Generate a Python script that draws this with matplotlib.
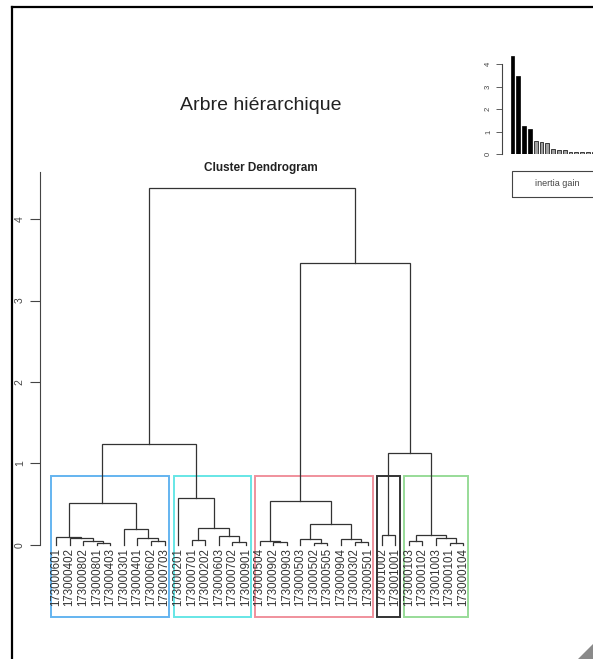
import numpy as np
import matplotlib
matplotlib.use('Agg')
import matplotlib.pyplot as plt
from matplotlib.patches import Rectangle, Polygon

plt.rcParams['font.family'] = ['Liberation Sans', 'DejaVu Sans']

# leaf labels in dendrogram order
labels = ['173000601', '173000402', '173000802', '173000801', '173000403',
          '173000301', '173000401', '173000602', '173000703',
          '173000201', '173000701', '173000202', '173000603', '173000702', '173000901',
          '173000504', '173000902', '173000903', '173000503', '173000502',
          '173000505', '173000904', '173000302', '173000501',
          '173001002', '173001001',
          '173000103', '173000102', '173001003', '173000101', '173000104']

# merges: (child a, child b, height); leaves are 0..30, merge k gets id 31+k
merges = [(3, 4, 0.02), (2, 31, 0.05), (1, 32, 0.08), (0, 33, 0.095),
          (7, 8, 0.04), (6, 35, 0.085), (5, 36, 0.19), (34, 37, 0.51),
          (10, 11, 0.06), (13, 14, 0.03), (12, 40, 0.11), (39, 41, 0.20),
          (9, 42, 0.57), (38, 43, 1.24),
          (16, 17, 0.03), (15, 45, 0.05), (19, 20, 0.02), (18, 47, 0.07),
          (22, 23, 0.03), (21, 49, 0.07), (48, 50, 0.25), (46, 51, 0.54),
          (24, 25, 0.12),
          (26, 27, 0.05), (29, 30, 0.025), (28, 55, 0.08), (54, 56, 0.12),
          (53, 57, 1.13), (52, 58, 3.46), (44, 59, 4.38)]

# clusters cut at k=5: first and last leaf of each box
cluster_bounds = [(0, 8), (9, 14), (15, 23), (24, 25), (26, 30)]
cluster_colors = ['#64b4f0', '#66e6e6', '#f0909c', '#333333', '#98dc98']

n_black = 4
inertia_gain = sorted([m[2] for m in merges], reverse=True)

W, H = 593, 659
fig = plt.figure(figsize=(W / 100, H / 100), dpi=100)

# main dendrogram axes
y0, ppu = 544.7, 81.4
ybot = -0.89
ytop = 4.58
xl, xr = 40, 480
lx0, lsp = 56, 13.57
ax = fig.add_axes([xl / W, 1 - (y0 - ybot * ppu) / H, (xr - xl) / W, (ytop - ybot) * ppu / H])
ax.set_xlim((xl - lx0) / lsp, (xr - lx0) / lsp)
ax.set_ylim(ybot, ytop)

n = len(labels)
pos = {i: float(i) for i in range(n)}
hgt = {i: 0.0 for i in range(n)}
for k, (a, b, h) in enumerate(merges):
    ax.plot([pos[a], pos[a], pos[b], pos[b]], [hgt[a], h, h, hgt[b]],
            color='#333333', lw=0.9, solid_joinstyle='miter')
    pos[n + k] = (pos[a] + pos[b]) / 2
    hgt[n + k] = h

for i, lab in enumerate(labels):
    ax.text(i, -0.04, lab, rotation=90, ha='center', va='top',
            fontsize=8.3, color='#333333')

rect_top = (sorted([m[2] for m in merges], reverse=True)[3] +
            sorted([m[2] for m in merges], reverse=True)[4]) / 2
for (first, last), col in zip(cluster_bounds, cluster_colors):
    ax.add_patch(Rectangle((first - 0.34, ybot), last - first + 0.68, rect_top - ybot,
                           fill=False, edgecolor=col, lw=1.4, clip_on=False))

for s in ['top', 'right', 'bottom']:
    ax.spines[s].set_visible(False)
ax.spines['left'].set_bounds(0, ytop)
ax.spines['left'].set_color('#444444')
ax.set_xticks([])
ax.set_yticks([0, 1, 2, 3, 4])
ax.set_yticklabels(['0', '1', '2', '3', '4'], rotation=90, va='center',
                   fontsize=7.5, color='#444444')
ax.tick_params(axis='y', length=7, pad=4, color='#444444')

# inertia gain inset
iy0, ippu = 154.3, 22.5
ipx0, ipu = 509.1, 4.83
ixl = 501.7
ixr_data = 37
iax = fig.add_axes([ixl / W, 1 - iy0 / H, (ipx0 + ixr_data * ipu - ixl) / W, 4.6 * ippu / H])
iax.set_xlim((ixl - ipx0) / ipu, ixr_data)
iax.set_ylim(0, 4.6)
bx = 0.7 + 1.2 * np.arange(len(inertia_gain))
bcol = ['black'] * n_black + ['#a0a0a0'] * (len(inertia_gain) - n_black)
iax.bar(bx, inertia_gain, width=0.8, color=bcol, edgecolor='black', lw=0.5)
for s in ['top', 'right', 'bottom']:
    iax.spines[s].set_visible(False)
iax.spines['left'].set_bounds(0, 4)
iax.spines['left'].set_color('#444444')
iax.set_xticks([])
iax.set_yticks([0, 1, 2, 3, 4])
iax.set_yticklabels(['0', '1', '2', '3', '4'], rotation=90, va='center',
                    fontsize=5.5, color='#444444')
iax.tick_params(axis='y', length=4, pad=3, width=0.6, color='#444444')

# legend box of the inset
fig.patches.append(Rectangle((512 / W, 1 - 196.7 / H), 100 / W, 25.7 / H,
                             transform=fig.transFigure, fill=False,
                             edgecolor='#444444', lw=0.8))
fig.text(557 / W, 1 - 184 / H, 'inertia gain', ha='center', va='center',
         fontsize=6.5, color='#444444')

# titles
fig.text(261 / W, 1 - 105 / H, 'Arbre hiérarchique', ha='center', va='center',
         fontsize=14, color='#222222')
fig.text(261 / W, 1 - 167.5 / H, 'Cluster Dendrogram', ha='center', va='center',
         fontsize=8.5, fontweight='bold', color='#222222')

# window frame
fig.add_artist(plt.Line2D([12 / W, 12 / W], [0, 1 - 6.5 / H], transform=fig.transFigure,
                          color='black', lw=1.6))
fig.add_artist(plt.Line2D([12 / W, 1], [1 - 6.5 / H, 1 - 6.5 / H], transform=fig.transFigure,
                          color='black', lw=1.6))
fig.patches.append(Polygon([(578 / W, 0), (1, 0), (1, 15 / H)], closed=True,
                           transform=fig.transFigure, color='#8a8a8a'))

fig.savefig('out.png', dpi=100)
